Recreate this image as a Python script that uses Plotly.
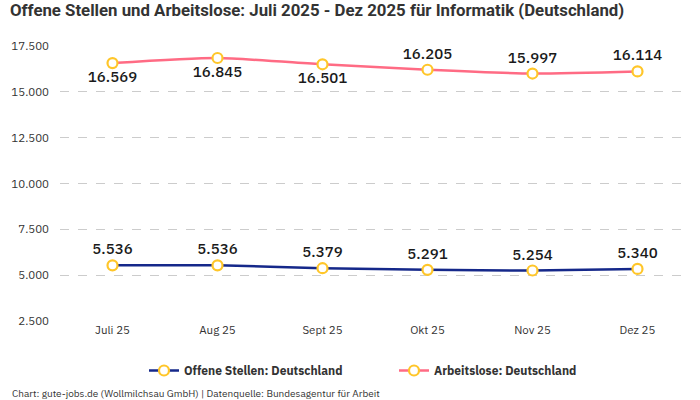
import plotly.graph_objects as go

months = ["Juli 25", "Aug 25", "Sept 25", "Okt 25", "Nov 25", "Dez 25"]
offene_stellen = [5536, 5536, 5379, 5291, 5254, 5340]
arbeitslose = [16569, 16845, 16501, 16205, 15997, 16114]
arbeitslose_text_pos = ["bottom center", "bottom center", "bottom center",
                        "top center", "top center", "top center"]

navy = "#15288a"
pink = "#ff6b84"
yellow = "#ffc629"
font_main = "IBM Plex Sans, Roboto, Noto Sans, sans-serif"

fig = go.Figure()
fig.add_trace(go.Scatter(
    x=months, y=offene_stellen, name="Offene Stellen: Deutschland",
    mode="lines+markers+text",
    line=dict(color=navy, width=2.5, shape="spline", smoothing=0.6),
    marker=dict(size=10, color="white", line=dict(color=yellow, width=2.2)),
    text=[f"{v:,}".replace(",", ".") for v in offene_stellen],
    textposition="top center",
    textfont=dict(size=15, color="#1a1a1a", family=font_main, weight=500),
))
fig.add_trace(go.Scatter(
    x=months, y=arbeitslose, name="Arbeitslose: Deutschland",
    mode="lines+markers+text",
    line=dict(color=pink, width=2.5, shape="spline", smoothing=0.6),
    marker=dict(size=10, color="white", line=dict(color=yellow, width=2.2)),
    text=[f"{v:,}".replace(",", ".") for v in arbeitslose],
    textposition=arbeitslose_text_pos,
    textfont=dict(size=15, color="#1a1a1a", family=font_main, weight=500),
))

fig.update_layout(
    width=700, height=400,
    margin=dict(l=60, r=10, t=46, b=79, autoexpand=False),
    plot_bgcolor="white", paper_bgcolor="white",
    separators=",.",
    font=dict(family=font_main, color="#333333", size=11),
    title=dict(
        text="<b>Offene Stellen und Arbeitslose: Juli 2025 - Dez 2025 für Informatik (Deutschland)</b>",
        x=10/700, xref="container", xanchor="left", y=0.975, yanchor="middle",
        font=dict(size=16.8, color="#333333", family="Roboto, sans-serif"),
    ),
    xaxis=dict(
        showgrid=False, showline=False, zeroline=False, automargin=False,
        ticks="", tickfont=dict(size=11.5, color="#333333"),
        range=[-0.5, 5.5],
    ),
    yaxis=dict(
        range=[2500, 17500], dtick=2500, tick0=2500,
        tickformat=",d", automargin=False,
        showgrid=True, gridcolor="#cccccc", griddash="dash", gridwidth=1,
        zeroline=False, showline=False, ticks="",
        tickfont=dict(size=11.5, color="#333333"),
        ticklabelstandoff=10,
    ),
    legend=dict(
        orientation="h", x=334 / 630, xanchor="center", y=-0.18, yanchor="middle",
        font=dict(size=12, color="#333333", family=font_main, weight="bold"),
        entrywidth=205, entrywidthmode="pixels",
    ),
    showlegend=True,
)

fig.add_annotation(
    text="Chart: gute-jobs.de (Wollmilchsau GmbH) | Datenquelle: Bundesagentur für Arbeit",
    xref="paper", yref="paper", x=-50/630, y=-72/275,
    xanchor="left", yanchor="middle", showarrow=False,
    font=dict(size=10, color="#333333"),
)

fig.write_html("out.html", config={"displayModeBar": False},
               post_script="document.body.style.margin='0';")
